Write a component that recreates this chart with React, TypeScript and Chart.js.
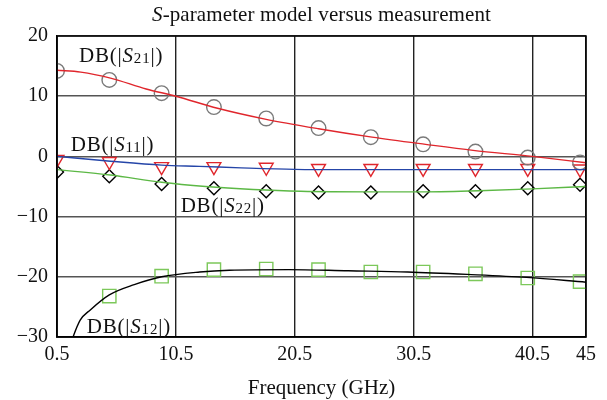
import React, { useEffect, useRef } from 'react';
import { Chart, registerables } from 'chart.js';

Chart.register(...registerables);

// Measured points (GHz)
const measFreq = [0.5, 4.9, 9.3, 13.7, 18.1, 22.5, 26.9, 31.3, 35.7, 40.1, 44.5];
const s21Meas = [14.2, 12.7, 10.5, 8.2, 6.3, 4.7, 3.2, 2.0, 0.8, -0.2, -1.0];
const s11Meas = [-0.5, -0.85, -1.7, -1.7, -1.8, -2.0, -2.0, -2.0, -2.0, -2.0, -2.1];
const s22Meas = [-2.6, -3.3, -4.6, -5.3, -5.8, -6.0, -6.0, -5.8, -5.8, -5.3, -4.7];
const s12Meas = [null, -23.2, -19.9, -18.8, -18.7, -18.8, -19.2, -19.2, -19.5, -20.2, -20.8];

// Model curves
const s21ModelFreq = [0.5, 2.5, 5, 8, 10.5, 14, 18, 22.5, 27, 31.5, 35.5, 40.5, 45];
const s21Model = [14.3, 14.0, 13.0, 11.2, 10.0, 8.0, 6.2, 4.6, 3.2, 2.0, 1.0, 0.0, -1.05];
const s11ModelFreq = [0.5, 5, 9.3, 12.5, 16, 20.5, 25, 35, 45];
const s11Model = [0.0, -0.8, -1.45, -1.65, -1.9, -2.15, -2.2, -2.2, -2.2];
const s22ModelFreq = [0.5, 5, 9.3, 13, 17, 21, 27, 31, 36, 40.5, 45];
const s22Model = [-2.2, -3.1, -4.3, -5.0, -5.5, -5.8, -5.9, -5.9, -5.7, -5.4, -5.0];
const s12ModelFreq = [1.2, 1.85, 2.45, 3.3, 4.9, 7, 9.3, 12.5, 15, 20, 25, 30, 35, 40, 45];
const s12Model = [-34, -30, -27.2, -25.5, -23.0, -21.3, -20.0, -19.2, -18.9, -18.8, -19.0, -19.2, -19.6, -20.1, -20.9];

// Axis ticks
const xTicks = [0.5, 10.5, 20.5, 30.5, 40.5, 45];
const yTicks = [-30, -20, -10, 0, 10, 20];

// Curve labels: subscript and anchor (left, baseline) in data units
const labelSubs = ['21', '11', '22', '12'];
const labelFreq = [2.35, 1.65, 10.9, 3.0];
const labelDb = [15.7, 0.85, -9.2, -29.3];

const SERIF = '"Liberation Serif", "Times New Roman", serif';
const F_NORMAL = `21px ${SERIF}`;
const F_ITALIC = `italic 21px ${SERIF}`;
const F_SUB = `15px ${SERIF}`;

type Run = { t: string; f: string; dy?: number };

function drawRuns(ctx: CanvasRenderingContext2D, x: number, y: number, runs: Run[], align: 'left' | 'center', spacing = 0) {
  ctx.textAlign = 'left';
  ctx.textBaseline = 'alphabetic';
  (ctx as any).letterSpacing = `${spacing}px`;
  let total = 0;
  for (const r of runs) {
    ctx.font = r.f;
    total += ctx.measureText(r.t).width;
  }
  let cx = align === 'center' ? x - total / 2 : x;
  for (const r of runs) {
    ctx.font = r.f;
    ctx.fillText(r.t, cx, y + (r.dy || 0));
    cx += ctx.measureText(r.t).width;
  }
  (ctx as any).letterSpacing = '0px';
}

const textPlugin = {
  id: 'textPlugin',
  afterDraw(chart: any) {
    const ctx: CanvasRenderingContext2D = chart.ctx;
    const { chartArea } = chart;
    const xs = chart.scales.x;
    const ys = chart.scales.y;
    ctx.save();
    // frame
    ctx.strokeStyle = '#000';
    ctx.lineWidth = 1.5;
    ctx.strokeRect(chartArea.left, chartArea.top, chartArea.right - chartArea.left, chartArea.bottom - chartArea.top);
    ctx.fillStyle = '#111';
    const cx = (chartArea.left + chartArea.right) / 2;
    // title
    drawRuns(ctx, cx, chartArea.top - 15, [
      { t: 'S', f: F_ITALIC },
      { t: '-parameter model versus measurement', f: F_NORMAL },
    ], 'center', 0.1);
    // x axis title
    drawRuns(ctx, cx, chartArea.bottom + 57, [{ t: 'Frequency (GHz)', f: F_NORMAL }], 'center', 0);
    // curve labels
    for (let i = 0; i < labelSubs.length; i++) {
      const px = xs.getPixelForValue(labelFreq[i]);
      const py = ys.getPixelForValue(labelDb[i]);
      drawRuns(ctx, px, py, [
        { t: 'DB(|', f: F_NORMAL },
        { t: 'S', f: F_ITALIC },
        { t: labelSubs[i], f: F_SUB, dy: 1 },
        { t: '|)', f: F_NORMAL },
      ], 'left', 0.8);
    }
    ctx.restore();
  },
};

const toXY = (xsArr: number[], ysArr: (number | null)[]) =>
  xsArr.map((x, i) => ({ x, y: ysArr[i] }));

export default function App() {
  const ref = useRef<HTMLCanvasElement | null>(null);

  useEffect(() => {
    if (!ref.current) return;
    const modelBase = {
      type: 'line' as const,
      pointRadius: 0,
      borderWidth: 1.4,
      cubicInterpolationMode: 'monotone' as const,
      showLine: true,
      fill: false,
    };
    const measBase = {
      type: 'line' as const,
      showLine: false,
      backgroundColor: 'rgba(0,0,0,0)',
      pointBorderWidth: 1.4,
    };
    const chart = new Chart(ref.current, {
      type: 'line',
      data: {
        datasets: [
          { ...modelBase, label: 'S21 model', data: toXY(s21ModelFreq, s21Model), borderColor: '#e0262c' },
          { ...modelBase, label: 'S11 model', data: toXY(s11ModelFreq, s11Model), borderColor: '#2545a8' },
          { ...modelBase, label: 'S22 model', data: toXY(s22ModelFreq, s22Model), borderColor: '#5cb845' },
          { ...modelBase, label: 'S12 model', data: toXY(s12ModelFreq, s12Model), borderColor: '#000000' },
          { ...measBase, label: 'S21 meas', data: toXY(measFreq, s21Meas), pointStyle: 'circle', pointRadius: 7.3, borderColor: '#7a7a7a', pointBorderColor: '#7a7a7a' },
          { ...measBase, label: 'S11 meas', data: toXY(measFreq, s11Meas), pointStyle: 'triangle', rotation: 180, pointRadius: 8, borderColor: '#e0262c', pointBorderColor: '#e0262c' },
          { ...measBase, label: 'S22 meas', data: toXY(measFreq, s22Meas), pointStyle: 'rectRot', pointRadius: 6.5, borderColor: '#000', pointBorderColor: '#000' },
          { ...measBase, label: 'S12 meas', data: toXY(measFreq, s12Meas), pointStyle: 'rect', pointRadius: 9.4, borderColor: '#7cc85a', pointBorderColor: '#7cc85a' },
        ],
      },
      options: {
        animation: false,
        responsive: false,
        layout: { padding: { left: 0, right: 21, top: 36, bottom: 0 } },
        plugins: {
          legend: { display: false },
          title: { display: false },
          tooltip: { enabled: false },
        },
        scales: {
          x: {
            type: 'linear',
            min: 0.5,
            max: 45,
            afterBuildTicks: (scale: any) => {
              scale.ticks = xTicks.map((v) => ({ value: v }));
            },
            afterFit: (scale: any) => {
              scale.height = 63;
            },
            ticks: {
              autoSkip: false,
              maxRotation: 0,
              padding: 6,
              color: '#111',
              font: { family: SERIF, size: 20 },
              callback: (v: any) => String(v),
            },
            grid: { color: '#222', lineWidth: 1.4, drawTicks: false },
            border: { color: '#000', width: 1.5 },
          },
          y: {
            type: 'linear',
            min: -30,
            max: 20,
            afterBuildTicks: (scale: any) => {
              scale.ticks = yTicks.map((v) => ({ value: v }));
            },
            afterFit: (scale: any) => {
              scale.width = 57;
            },
            ticks: {
              padding: 9,
              color: '#111',
              font: { family: SERIF, size: 20 },
              callback: (v: any) => (Number(v) < 0 ? '\u2212' + Math.abs(Number(v)) : String(v)),
            },
            grid: { color: '#555', lineWidth: 1.4, drawTicks: false },
            border: { color: '#000', width: 1.5 },
          },
        },
      },
      plugins: [textPlugin],
    } as any);
    return () => chart.destroy();
  }, []);

  return (
    <div style={{ position: 'fixed', left: 0, top: 0, width: 607, height: 400, background: '#fff' }}>
      <canvas ref={ref} width={607} height={400} style={{ display: 'block' }} />
    </div>
  );
}
